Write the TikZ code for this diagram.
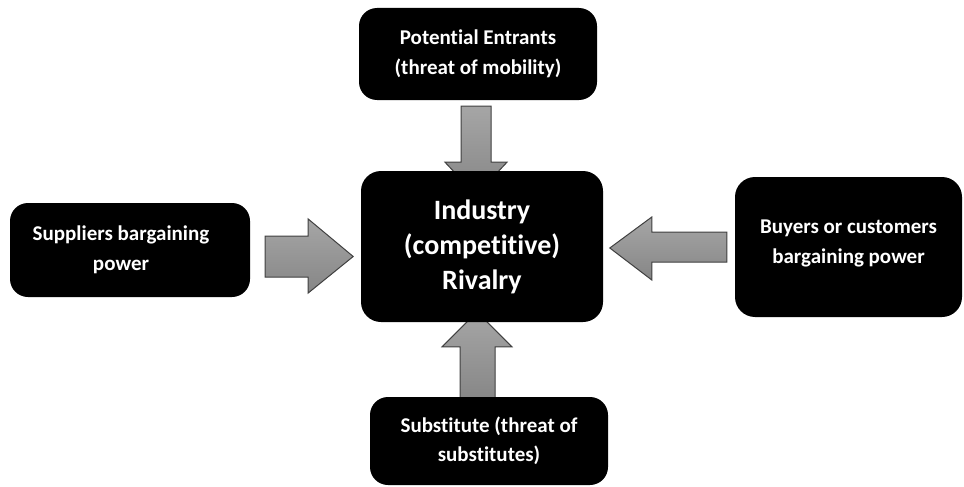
\documentclass[tikz,border=0pt]{standalone}
\usepackage{fontspec}
\setmainfont{Carlito}[Ligatures=NoCommon]
\usetikzlibrary{backgrounds}
\tikzset{
	force/.style={fill=black, rounded corners=18pt, text=white, align=center,
		font=\bfseries\fontsize{21}{29.5}\selectfont, inner sep=0pt},
	blockarrow/.style={draw=black!75, line width=1pt, top color=gray!70, bottom color=gray!95}
}
\begin{document}
\begin{tikzpicture}[x=1pt, y=-1pt]
	\useasboundingbox (0,0) rectangle (964,487);
	\node[force, minimum width=242pt, minimum height=151pt, rounded corners=20pt,
		font=\bfseries\fontsize{28}{35}\selectfont] (ind) at (482,246.5) {Industry\\(competitive)\\Rivalry};
	\node[force, minimum width=238pt, minimum height=92pt] (ent) at (478,54) {Potential Entrants\\(threat of mobility)};
	\node[force, minimum width=240pt, minimum height=94pt] (sup) at (130,250) {Suppliers bargaining\hspace*{18pt}\\power\hspace*{18pt}};
	\node[force, minimum width=227pt, minimum height=140pt, rounded corners=20pt] (buy) at (848.5,247) {Buyers or customers\\bargaining power\\[-19pt]};
	\node[force, minimum width=238pt, minimum height=88pt] (sub) at (489,441) {Substitute (threat of\\substitutes)};
\begin{scope}[on background layer]
	\draw[blockarrow, shift={(sup.east)}](15,-14)--(58,-14)--(58,-31)--(103,6.5)--(58,43)--(58,27)--(15,27)--cycle;
	\draw[blockarrow, shift={(buy.west)}](-8,-15)--(-83,-15)--(-83,-30)--(-125,1)--(-83,33)--(-83,15)--(-8,15)--cycle;
	\draw[blockarrow, shift={(ent.south)}](-17,6)--(13,6)--(13,62)--(29,62)--(-2,95)--(-33,62)--(-17,62)--cycle;
	\draw[blockarrow, shift={(sub.north)}](-29,5)--(6,5)--(6,-50)--(23,-50)--(-12,-85)--(-47,-50)--(-29,-50)--cycle;
\end{scope}
\end{tikzpicture}
\end{document}
